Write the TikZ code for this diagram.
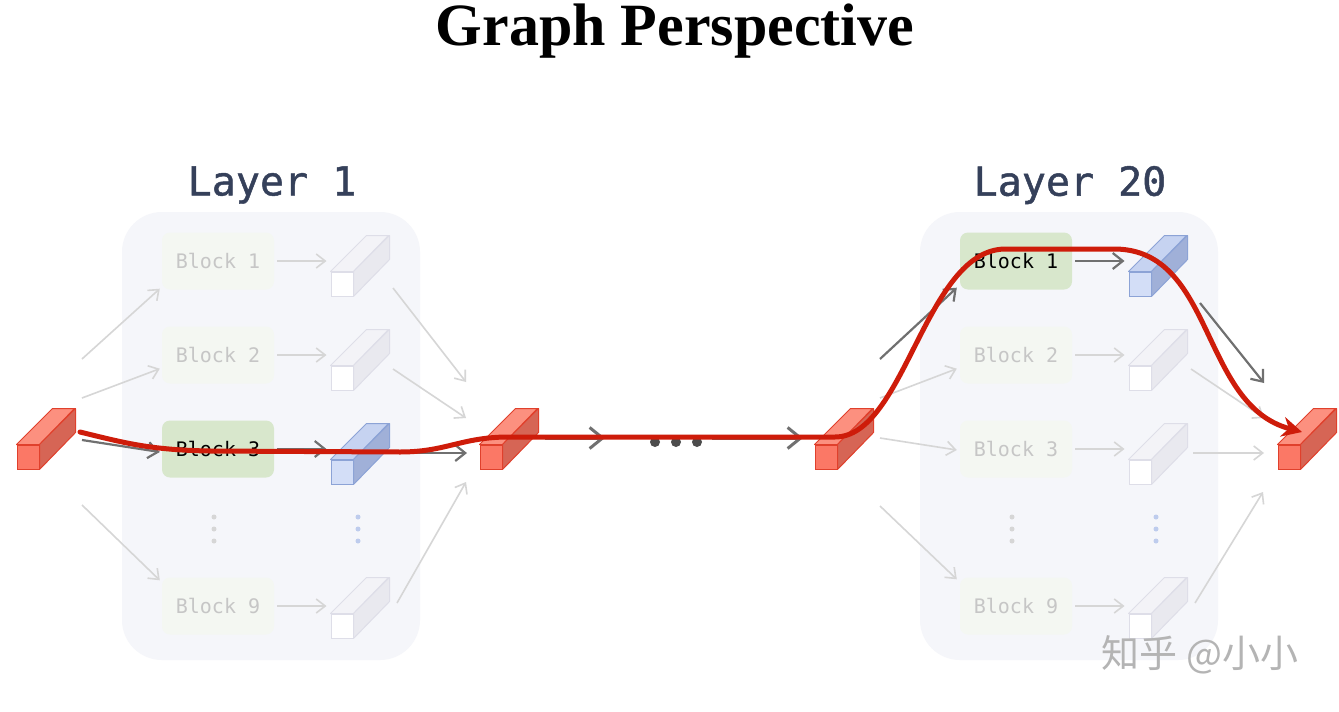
\documentclass[tikz,border=0pt]{standalone}
\usepackage{fontspec}
\setmainfont{Liberation Serif}
\newfontfamily\monof{DejaVu Sans Mono}
\newfontfamily\monolab[FakeBold=1.2]{DejaVu Sans Mono}
\newfontfamily\cjkf{Noto Sans CJK SC}
\usetikzlibrary{arrows.meta}
\definecolor{panelc}{HTML}{F5F6FA}
\definecolor{layerc}{HTML}{35405A}
\definecolor{fadetext}{HTML}{C6C6C6}
\definecolor{fadeblock}{HTML}{F4F7F2}
\definecolor{hiblock}{HTML}{D8E7CC}
\definecolor{fadeline}{HTML}{D6D6D6}
\definecolor{darkline}{HTML}{707070}
\definecolor{redpathc}{HTML}{CE1C0A}
\definecolor{redfrontc}{HTML}{FB7866}
\definecolor{redtopc}{HTML}{FC907F}
\definecolor{redsidec}{HTML}{D66555}
\definecolor{redstroke}{HTML}{E0402C}
\definecolor{bluefrontc}{HTML}{D3DEF7}
\definecolor{bluetopc}{HTML}{C6D3F1}
\definecolor{bluesidec}{HTML}{A0B0D8}
\definecolor{bluestroke}{HTML}{8CA3D6}
\definecolor{fadetopc}{HTML}{F3F3F7}
\definecolor{fadesidec}{HTML}{E9E9EF}
\definecolor{fadestroke}{HTML}{DEDEE8}
\definecolor{wmc}{HTML}{B4B4B4}
\tikzset{
  redfront/.style={fill=redfrontc, draw=redstroke, line width=1pt},
  redtop/.style={fill=redtopc, draw=redstroke, line width=1pt, line join=round},
  redside/.style={fill=redsidec, draw=redstroke, line width=1pt, line join=round},
  bluefront/.style={fill=bluefrontc, draw=bluestroke, line width=1pt},
  bluetop/.style={fill=bluetopc, draw=bluestroke, line width=1pt, line join=round},
  blueside/.style={fill=bluesidec, draw=bluestroke, line width=1pt, line join=round},
  fadefront/.style={fill=white, draw=fadestroke, line width=1pt},
  fadetop/.style={fill=fadetopc, draw=fadestroke, line width=1pt, line join=round},
  fadeside/.style={fill=fadesidec, draw=fadestroke, line width=1pt, line join=round},
  panel/.style={fill=panelc, rounded corners=40pt, minimum width=298pt, minimum height=448pt, inner sep=0pt},
  layerlabel/.style={text=layerc, font=\monolab\fontsize{40}{42}\selectfont},
  blockfade/.style={fill=fadeblock, rounded corners=8pt, minimum width=112pt, minimum height=57pt, inner sep=0pt, text=fadetext, font=\monof\fontsize{20}{22}\selectfont},
  blockhi/.style={fill=hiblock, rounded corners=8pt, minimum width=112pt, minimum height=57pt, inner sep=0pt, text=black, font=\monof\fontsize{20}{22}\selectfont},
  fa/.style={draw=fadeline, line width=1.6pt, -{Straight Barb[length=9pt,width=14pt]}},
  da/.style={draw=darkline, line width=2.2pt, -{Straight Barb[length=10pt,width=16pt]}},
  ma/.style={draw=darkline, line width=3pt, -{Straight Barb[length=13pt,width=21pt]}},
  redpath/.style={draw=redpathc, line width=5pt, line cap=round},
  vdot/.style={circle, inner sep=0pt, minimum size=5pt, fill=#1},
}
\newcommand\cub[4]{%
  \node[#4front, minimum width=22pt, minimum height=24pt, inner sep=0pt] (#1) at (#2,#3) {};
  \draw[#4top] (#1.north west) -- ++(36,-36) -- ++(22,0) -- (#1.north east) -- cycle;
  \draw[#4side] (#1.north east) -- ++(36,-36) -- ++(0,24) -- (#1.south east) -- cycle;
}
\begin{document}
\begin{tikzpicture}[x=1pt,y=-1pt]
\useasboundingbox[fill=white] (0,0) rectangle (1339,712);

% title
\node[font=\bfseries\fontsize{60}{62}\selectfont, anchor=base] (title) at (675,45) {Graph Perspective};

% panels and labels
\node[panel] (p1) at (271,436) {};
\node[panel] (p2) at (1069,436) {};
\node[layerlabel] (lab1) at (272,185) {Layer 1};
\node[layerlabel] (lab2) at (1070,185) {Layer 20};

% Layer 1 blocks
\node[blockfade] (a1) at (218,261) {Block 1};
\node[blockfade] (a2) at (218,355) {Block 2};
\node[blockhi]   (a3) at (218,449) {Block 3};
\node[blockfade] (a9) at (218,606) {Block 9};
% Layer 20 blocks
\node[blockhi]   (b1) at (1016,261) {Block 1};
\node[blockfade] (b2) at (1016,355) {Block 2};
\node[blockfade] (b3) at (1016,449) {Block 3};
\node[blockfade] (b9) at (1016,606) {Block 9};

% vertical dots
\foreach \yy in {517,529,541}{
  \node[vdot=fadeline] at (214,\yy) {};
  \node[vdot=bluefrontc!70!bluestroke] at (358,\yy) {};
  \node[vdot=fadeline] at (1012,\yy) {};
  \node[vdot=bluefrontc!70!bluestroke] at (1156,\yy) {};
}

% Layer 1 block outputs (cuboids)
\cub{ca1}{342}{284}{fade}
\cub{ca2}{342}{378}{fade}
\cub{ca3}{342}{472}{blue}
\cub{ca9}{342}{626}{fade}
% Layer 20 block outputs
\cub{cb1}{1140}{284}{blue}
\cub{cb2}{1140}{378}{fade}
\cub{cb3}{1140}{472}{fade}
\cub{cb9}{1140}{626}{fade}

% red hidden states
\cub{r0}{28}{457}{red}
\cub{r1}{491}{457}{red}
\cub{r2}{826}{457}{red}
\cub{r3}{1289}{457}{red}

% block -> cuboid arrows
\foreach \b/\c/\s in {a1/ca1/fa,a2/ca2/fa,a3/ca3/da,a9/ca9/fa,b1/cb1/da,b2/cb2/fa,b3/cb3/fa,b9/cb9/fa}{
  \draw[\s, shorten <=3pt, shorten >=4pt] (\b.east) -- (\c.west |- \b.east);
}

% free ends of the fan-in / fan-out connectors
\coordinate (i01) at (82,359);  \coordinate (i02) at (82,398);
\coordinate (i03) at (82,440);  \coordinate (i09) at (82,505);
\coordinate (o11) at (393,288); \coordinate (o12) at (393,369);
\coordinate (o13) at (392,453); \coordinate (o19) at (397,603);
\coordinate (e11) at (466,382); \coordinate (e12) at (466,418);
\coordinate (e13) at (467,453); \coordinate (e19) at (466,482);
\coordinate (i21) at (880,359); \coordinate (i22) at (880,398);
\coordinate (i23) at (880,438); \coordinate (i29) at (880,506);
\coordinate (o21) at (1200,303); \coordinate (o22) at (1191,369);
\coordinate (o23) at (1193,453); \coordinate (o29) at (1195,603);
\coordinate (e21) at (1264,383); \coordinate (e22) at (1264,418);
\coordinate (e23) at (1264,453); \coordinate (e29) at (1263,492);

% Layer 1 fan-in
\draw[fa] (i01) -- ([shift={(-2,-1)}]a1.south west);
\draw[fa] (i02) -- ([shift={(-2,-15)}]a2.south west);
\draw[da] (i03) -- ([shift={(-2,3)}]a3.west);
\draw[fa] (i09) -- ([shift={(-2,3)}]a9.north west);
% Layer 1 fan-out
\draw[fa] (o11) -- (e11);
\draw[fa] (o12) -- (e12);
\draw[da] (o13) -- (e13);
\draw[fa] (o19) -- (e19);
% Layer 20 fan-in
\draw[da] (i21) -- ([shift={(-3,-2)}]b1.south west);
\draw[fa] (i22) -- ([shift={(-3,-15)}]b2.south west);
\draw[fa] (i23) -- ([shift={(-3,1)}]b3.west);
\draw[fa] (i29) -- ([shift={(-3,2)}]b9.north west);
% Layer 20 fan-out
\draw[da] (o21) -- (e21);
\draw[fa] (o22) -- (e22);
\draw[fa] (o23) -- (e23);
\draw[fa] (o29) -- (e29);

% middle: arrows and dots
\node[inner sep=0pt, minimum width=56pt, minimum height=12pt] (mid) at (676,442) {};
\foreach \xx in {655,676,697}{ \fill[black!70] (\xx,442) circle (5pt); }
\coordinate (m0) at (545,438);
\coordinate (m1) at (605,438);
\coordinate (m2) at (712,438);
\coordinate (m3) at (803,438);
\draw[ma] (m0) -- (m1);
\draw[ma] (m2) -- (m3);

% highlighted route
\coordinate (ps) at (80,432);
\coordinate (pe) at (1302,432);
\draw[redpath, -{Stealth[length=20pt,width=20pt]}] (ps)
  .. controls (125,443) and (150,450) .. (210,451)
  -- (400,452)
  .. controls (445,452) and (460,438) .. (505,437)
  -- (835,437)
  .. controls (905,437) and (925,250) .. (1005,249)
  -- (1115,249)
  .. controls (1215,250) and (1200,405) .. (pe);

% watermark
\node[font=\cjkf\fontsize{38}{40}\selectfont, text=wmc] (wm) at (1200,655) {知乎 @小小};
\end{tikzpicture}
\end{document}
